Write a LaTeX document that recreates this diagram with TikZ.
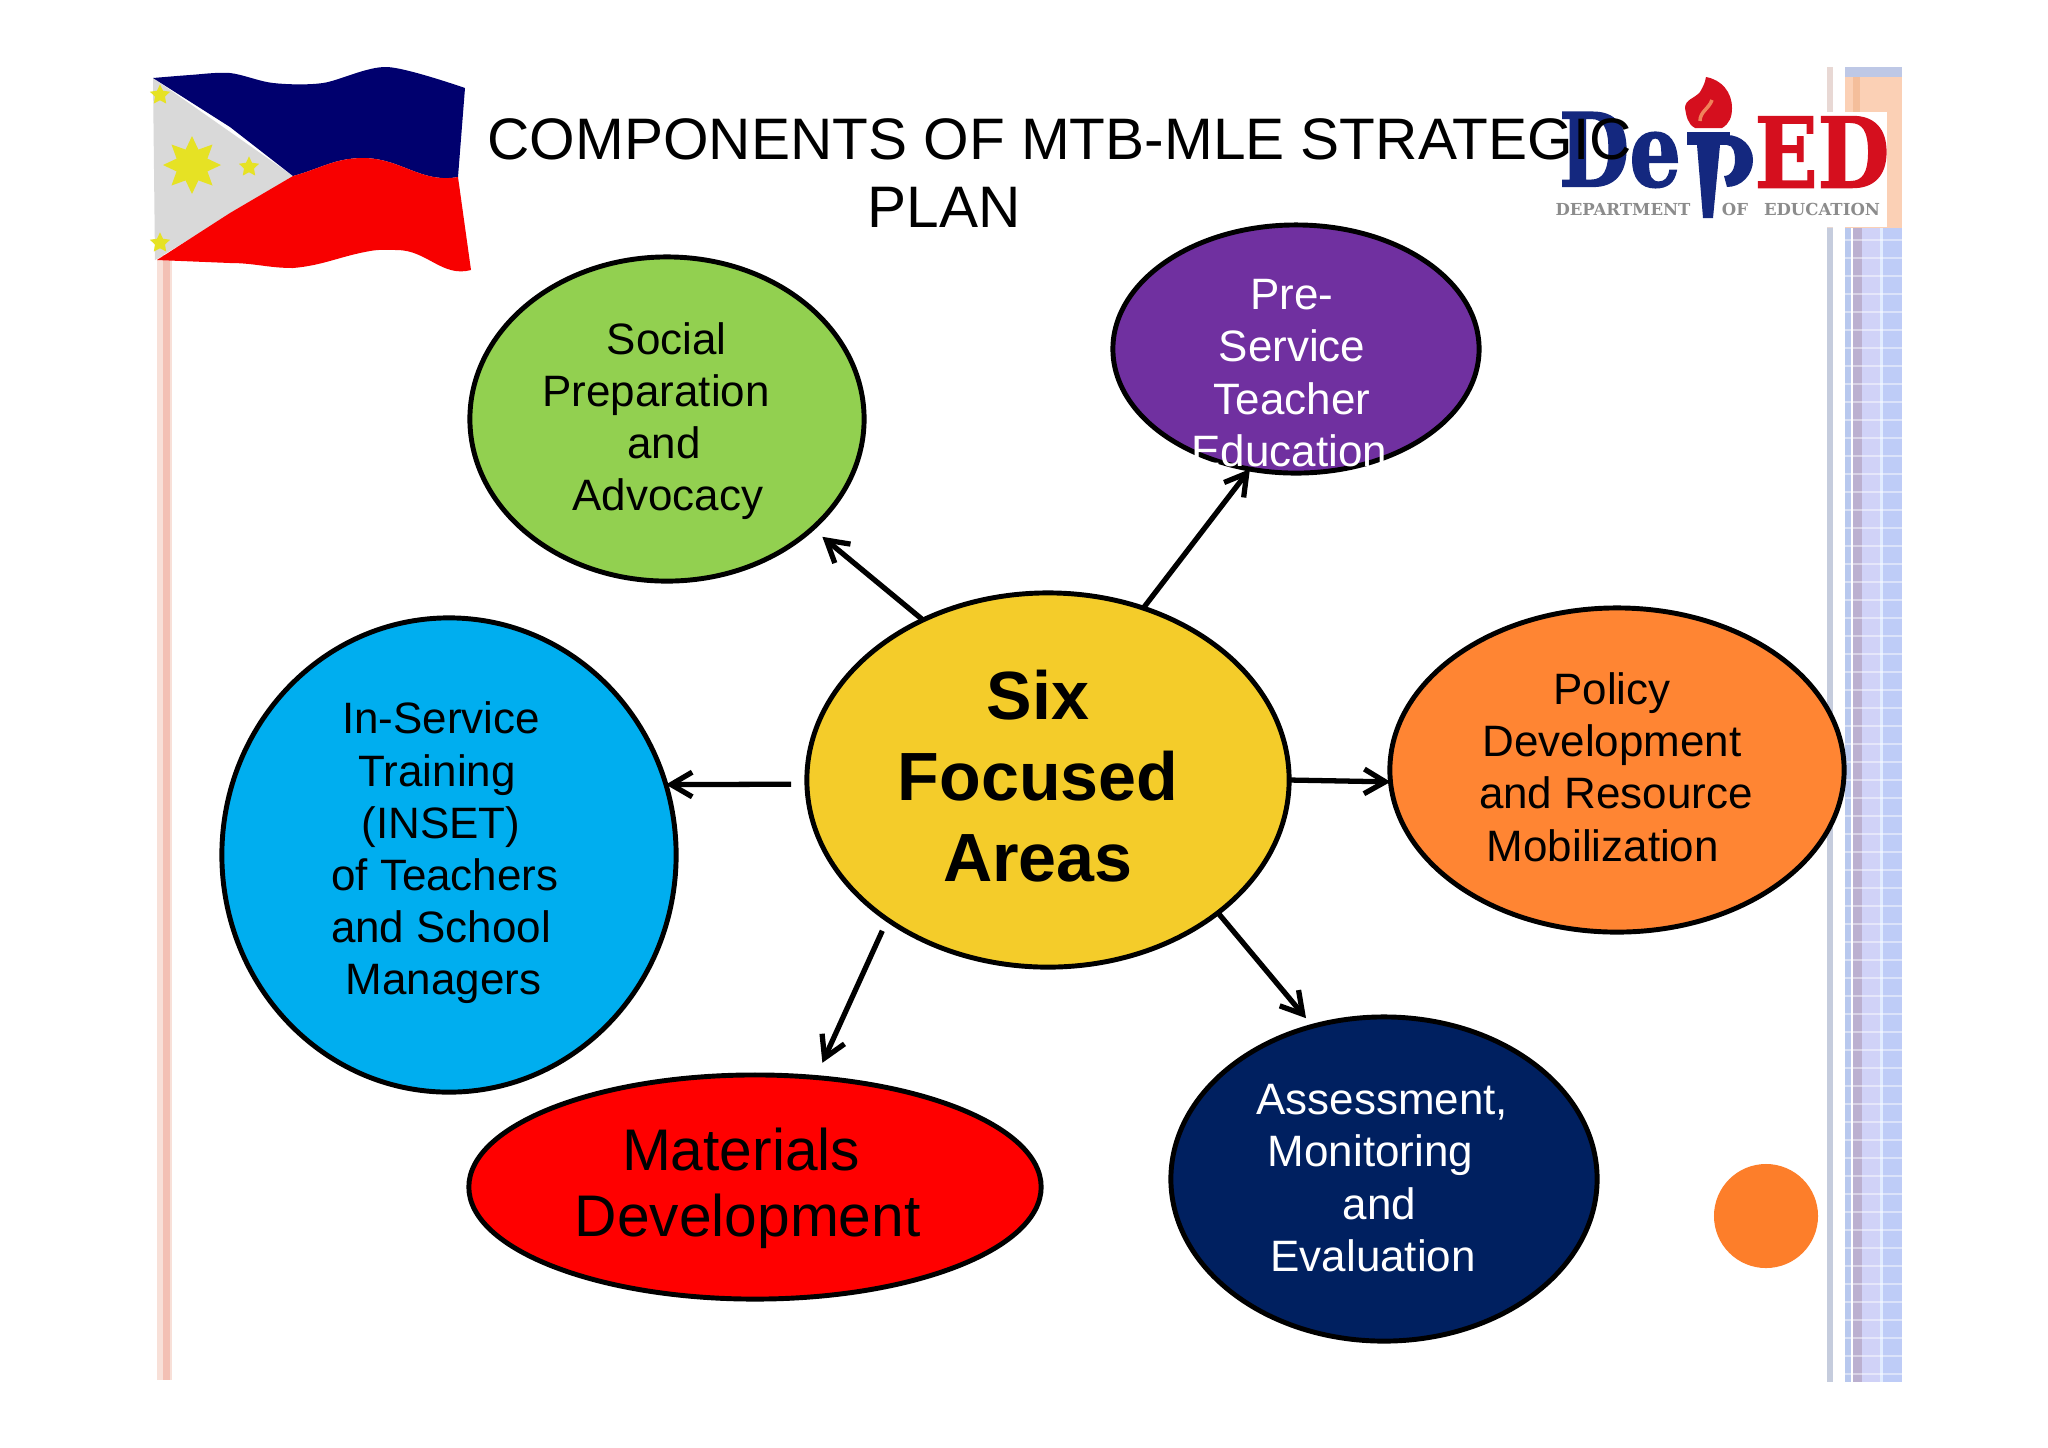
\documentclass[tikz,border=0pt]{standalone}
\usepackage{graphicx}
\usepackage{fontspec}
\setmainfont{Liberation Sans}
\newfontfamily\logofont[BoldFont={DejaVu Serif Bold},BoldFeatures={FakeBold=1.5}]{DejaVu Serif}
\newfontfamily\logosmall{DejaVu Serif Bold}
\usetikzlibrary{arrows.meta, shapes.geometric}

\definecolor{socialgreen}{HTML}{92D050}
\definecolor{prepurple}{HTML}{7030A0}
\definecolor{sixyellow}{HTML}{F4CC2A}
\definecolor{policyorange}{HTML}{FF8533}
\definecolor{insetblue}{HTML}{00AEEF}
\definecolor{matred}{HTML}{FF0000}
\definecolor{assessnavy}{HTML}{002060}
\definecolor{dotorange}{HTML}{FD7E2A}
\definecolor{flagblue}{HTML}{00006E}
\definecolor{flagred}{HTML}{F80000}
\definecolor{flagdark}{HTML}{D00010}
\definecolor{flagwhite}{HTML}{D9D9D9}
\definecolor{flagyellow}{HTML}{E6E224}
\definecolor{logoblue}{HTML}{14287F}
\definecolor{logored}{HTML}{D50F1E}
\definecolor{logogray}{HTML}{8C8C8C}

\newcommand{\nudge}[2]{\hspace*{#1}#2}

\tikzset{
	bubble/.style={ellipse,draw=black,line width=1.4pt,inner sep=0pt,outer sep=0pt},
	bubbletext/.style={align=center,inner sep=0pt,font=\fontsize{12.5}{14.85}\selectfont},
	link/.style={-{Straight Barb[length=6pt,width=7pt]},line width=1.5pt,black},
	flagstar/.style={star,star points=5,star point ratio=2,fill=flagyellow,inner sep=0pt,minimum size=6pt},
	deptext/.style={text=logogray,inner sep=0pt,font=\logosmall\fontsize{4.7}{5}\selectfont}
}

\begin{document}
\begin{tikzpicture}[x=0.01cm,y=-0.01cm]
	\useasboundingbox (0,0) rectangle (2048,1447);

	\fill[fill=white] (0,0) rectangle (2048,1447);

	\fill[color={rgb,255:red,248;green,224;blue,216}] (157,255) rectangle (172,1380);
	\fill[color={rgb,255:red,243;green,192;blue,180}] (163,255) rectangle (170,1380);

	\fill[color={rgb,255:red,197;green,204;blue,221}] (1827,228) rectangle (1833,1382);
	\fill[color={rgb,255:red,184;green,200;blue,238}] (1845,228) rectangle (1851,1382);
	\fill[color={rgb,255:red,187;green,176;blue,208}] (1853,228) rectangle (1862,1382);
	\fill[color={rgb,255:red,208;green,210;blue,247}] (1862,228) rectangle (1880,1382);
	\fill[color={rgb,255:red,225;green,236;blue,255}] (1880,228) rectangle (1883,1382);
	\fill[color={rgb,255:red,190;green,204;blue,247}] (1883,228) rectangle (1902,1382);
	\foreach \stripey in {240,258,...,1380}
		\draw[white,opacity=.45,line width=.4pt] (1845,\stripey) -- (1902,\stripey);
	\fill[color={rgb,255:red,232;green,216;blue,212}] (1827,67) rectangle (1833,228);
	\fill[color={rgb,255:red,251;green,208;blue,181}] (1845,67) rectangle (1902,228);
	\fill[color={rgb,255:red,244;green,190;blue,155}] (1853,77) rectangle (1860,112);
	\fill[color={rgb,255:red,190;green,200;blue,230}] (1845,67) rectangle (1902,77);
	\fill[white] (1560,112) rectangle (1887,227);

	\fill[flagwhite] (153,78) -- (293,176) -- (155,260) -- cycle;
	\fill[flagblue] plot[smooth] coordinates {(153,78) (190,75) (230,73) (273,83) (323,83) (387,67) (465,88)}
		-- (458,177) to[out=190,in=0] (363,158) to[out=180,in=15] (293,176)
		-- (230,127) -- (153,78) -- cycle;
	\shade[left color=flagred,middle color=flagdark,right color=flagred] (293,176) to[out=15,in=180] (363,158) to[out=0,in=190] (458,177)
		-- (471,270) to[out=195,in=0] (397,250) to[out=180,in=10] (370,251) to[out=190,in=5] (293,268)
		to[out=180,in=0] (230,263) -- (157,260) -- (230,213) -- cycle;
	\foreach \rayangle in {0,45,...,315}
		\fill[flagyellow,rotate around={\rayangle:(192,165)}] (204,157) -- (221,165) -- (204,173) -- cycle;
	\fill[flagyellow] (192,165) circle (15);
	\node[flagstar] (star_top) at (160,95) {};
	\node[flagstar] (star_mid) at (249,167) {};
	\node[flagstar] (star_low) at (160,243) {};

	\fill[logored] (1706,77) to[out=-10,in=90] (1732,108) to[out=-90,in=30] (1722,128) -- (1695,128)
		to[out=150,in=-80] (1685,108) to[out=90,in=-130] (1700,92) to[out=60,in=-100] cycle;
	\draw[color={rgb,255:red,240;green,130;blue,90},line width=1pt] (1700,121) to[out=90,in=-110] (1712,100);
	\fill[logoblue] (1687,132) rectangle (1730,145);
	\fill[logoblue] (1697,145) -- (1720,145) -- (1713,218) -- (1703,218) -- cycle;
	\fill[logoblue] (1727,135) to[out=0,in=90] (1753,160) to[out=-90,in=0] (1727,187) -- (1724,176) to[out=0,in=-90] (1735,160) to[out=90,in=0] (1727,145) -- cycle;
	\node[text=logoblue,inner sep=0pt,font=\logofont\bfseries\fontsize{28.9}{30}\selectfont] (logo_de) at (1620,150) {\scalebox{.8}[1]{De}};
	\node[text=logored,inner sep=0pt,font=\logofont\bfseries\fontsize{27.7}{30}\selectfont] (logo_ed) at (1822,152) {\scalebox{.85}[1]{ED}};
	\node[deptext] (logo_dept) at (1623,209) {DEPARTMENT};
	\node[deptext] (logo_of) at (1735,209) {OF};
	\node[deptext] (logo_edu) at (1822,209) {EDUCATION};

	\node[align=left,inner sep=0pt,anchor=north west,font=\fontsize{16.65}{19.4}\selectfont] (title) at (487,118) {COMPONENTS OF MTB-MLE STRATEGIC\\\hspace*{108pt}PLAN};

	\node[bubble,fill=socialgreen,minimum width=3.94cm,minimum height=3.24cm] (social) at (667,419) {};
	\node[bubble,fill=prepurple,minimum width=3.66cm,minimum height=2.48cm] (pre) at (1296,349) {};
	\node[bubble,fill=sixyellow,minimum width=4.82cm,minimum height=3.74cm] (six) at (1048,780) {};
	\node[bubble,fill=policyorange,minimum width=4.54cm,minimum height=3.24cm] (policy) at (1617,770) {};
	\node[bubble,fill=insetblue,minimum width=4.54cm,minimum height=4.74cm] (inset) at (449,855) {};
	\node[bubble,fill=matred,minimum width=5.72cm,minimum height=2.24cm] (materials) at (755,1187) {};
	\node[bubble,fill=assessnavy,minimum width=4.26cm,minimum height=3.24cm] (assess) at (1384,1179) {};
	\node[circle,fill=dotorange,inner sep=0pt,minimum size=1.04cm] (dot) at (1766,1216) {};

	\node[bubbletext] (social_text) at (664,421) {\nudge{1.5pt}{Social}\\\nudge{-4.5pt}{Preparation}\\and\\\nudge{2.2pt}{Advocacy}};
	\node[bubbletext,text=white] (pre_text) at (1292,373) {Pre-\\Service\\Teacher\\\nudge{-1.5pt}{Education}};
	\node[bubbletext,font=\bfseries\fontsize{19.4}{23}\selectfont] (six_text) at (1038,776) {Six\\Focused\\Areas};
	\node[bubbletext] (policy_text) at (1612,767) {Policy\\Development\\\nudge{2.2pt}{and Resource}\\\nudge{-5.2pt}{Mobilization}};
	\node[bubbletext] (inset_text) at (441,853) {In-Service\\\nudge{-2.2pt}{Training}\\(INSET)\\\nudge{2.2pt}{of Teachers}\\and School\\\nudge{1.5pt}{Managers}};
	\node[bubbletext,font=\fontsize{16.7}{18.7}\selectfont] (materials_text) at (745,1188) {\nudge{-2.2pt}{Materials}\\\nudge{1.5pt}{Development}};
	\node[bubbletext,text=white] (assess_text) at (1377,1178) {\nudge{3pt}{Assessment,}\\\nudge{-3.7pt}{Monitoring}\\\nudge{1.5pt}{and}\\\nudge{-2.2pt}{Evaluation}};

	\path[link]
	(six.128) edge [shorten >=3.7pt] (social.-37)
	(six.61) edge (pre.-111)
	(six.181) edge [shorten <=4.5pt] (inset.18)
	(six.0) edge (policy.183)
	(six.221) edge [shorten <=3.5pt, shorten >=4.6pt] (materials.61)
	(six.-38) edge [shorten >=3pt] (assess.115);
\end{tikzpicture}
\end{document}
